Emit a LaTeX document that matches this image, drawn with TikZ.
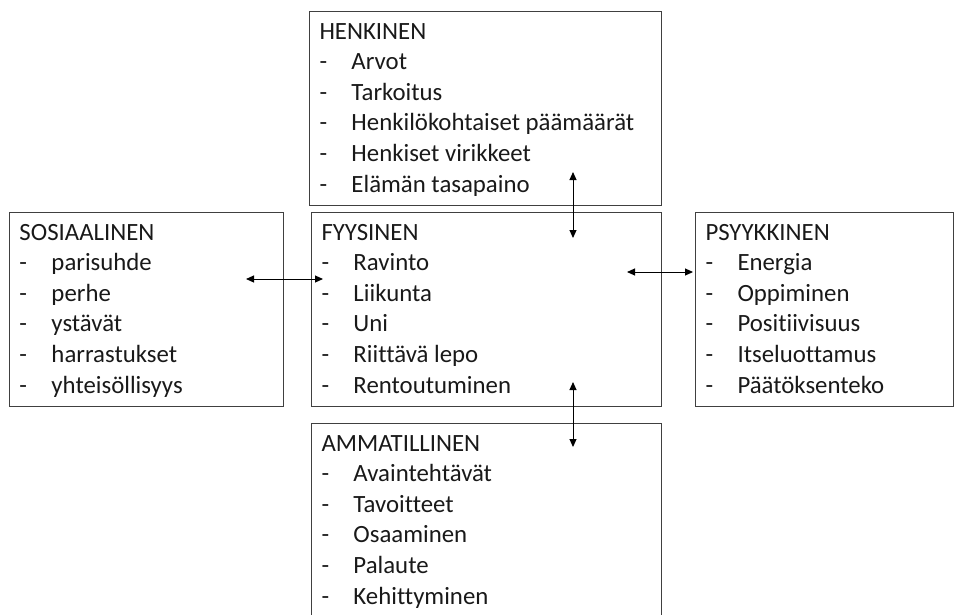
\documentclass[tikz,border=0pt]{standalone}
\usepackage{fontspec}
\setmainfont{Carlito}[Ligatures=NoCommon]
\usetikzlibrary{arrows, arrows.meta, positioning}

% otsikko ylhäälle, tyhjää alle
\newcommand{\otsikko}[1]{\rule{0pt}{27.5pt}#1}
\newcommand{\kohta}[1]{\makebox[32pt][l]{-}#1}
\newcommand{\loppu}{\rule[-13pt]{0pt}{13pt}}

\tikzset{
	alue/.style={draw=black!75, line width=1pt, rectangle, anchor=north west,
		align=flush left, inner xsep=10pt, inner ysep=0pt, text=black!90,
		font=\fontsize{24.8}{30.6}\selectfont},
	nuoli/.style={{Triangle[length=8pt,width=7pt]}-{Triangle[length=8pt,width=7pt]}, line width=1pt}
}

\begin{document}
\begin{tikzpicture}[x=1pt, y=-1pt]
	\useasboundingbox (0,0) rectangle (955,614);
	\clip (0,0) rectangle (955,614);
	\node[alue, text width=332pt] (henkinen) at (309,11)
		{\otsikko{HENKINEN}\\ \kohta{Arvot}\\ \kohta{Tarkoitus}\\ \kohta{Henkilökohtaiset päämäärät}\\ \kohta{Henkiset virikkeet}\\ \kohta{Elämän tasapaino}\loppu};
	\node[alue, text width=254pt] (sosiaalinen) at (9,212)
		{\otsikko{SOSIAALINEN}\\ \kohta{parisuhde}\\ \kohta{perhe}\\ \kohta{ystävät}\\ \kohta{harrastukset}\\ \kohta{yhteisöllisyys}\loppu};
	\node[alue, text width=330pt] (fyysinen) at (311,212)
		{\otsikko{FYYSINEN}\\ \kohta{Ravinto}\\ \kohta{Liikunta}\\ \kohta{Uni}\\ \kohta{Riittävä lepo}\\ \kohta{Rentoutuminen}\loppu};
	\node[alue, text width=238pt] (psyykkinen) at (695,212)
		{\otsikko{PSYYKKINEN}\\ \kohta{Energia}\\ \kohta{Oppiminen}\\ \kohta{Positiivisuus}\\ \kohta{Itseluottamus}\\ \kohta{Päätöksenteko}\loppu};
	\node[alue, text width=330pt] (ammatillinen) at (311,423)
		{\otsikko{AMMATILLINEN}\\ \kohta{Avaintehtävät}\\ \kohta{Tavoitteet}\\ \kohta{Osaaminen}\\ \kohta{Palaute}\\ \kohta{Kehittyminen}\loppu};
	% nuolten päät
	\coordinate (y1) at (573,172);
	\coordinate (y2) at (573,238);
	\coordinate (a1) at (573,382);
	\coordinate (a2) at (573,447);
	\coordinate (v1) at (246,279);
	\coordinate (v2) at (323,279);
	\coordinate (o1) at (627,272);
	\coordinate (o2) at (693,272);
	\foreach \from/\to in {y1/y2,a1/a2,v1/v2,o1/o2}
		\draw[nuoli] (\from) -- (\to);
\end{tikzpicture}
\end{document}
